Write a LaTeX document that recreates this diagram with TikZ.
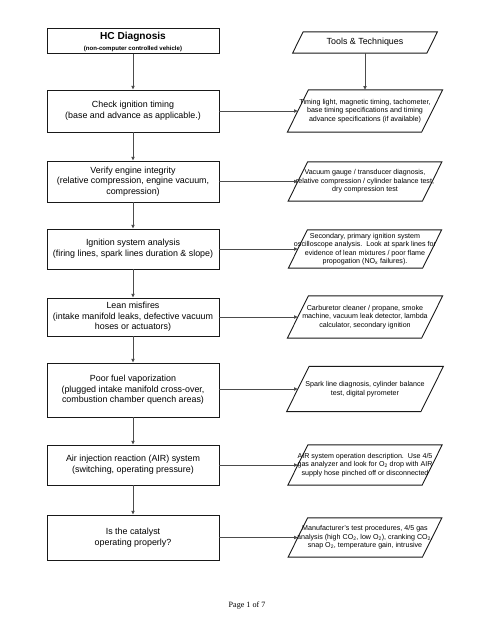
\documentclass[tikz,border=0pt]{standalone}
\usepackage{fontspec}
\setmainfont{Liberation Sans}
\newfontfamily\footfont{Liberation Serif}
\usetikzlibrary{arrows.meta}
\newcommand\pxu{1.2364pt}
\tikzset{
  lbox/.style={draw=black!90, line width=1.1pt, minimum width=172*\pxu, inner sep=0pt,
               align=center, font=\fontsize{11}{13.2}\selectfont},
  pbox/.style={minimum width=134*\pxu, inner sep=0pt},
  pline/.style={draw=black!90, line width=1.1pt, line join=miter},
  ptext/.style={align=center, font=\fontsize{8.8}{10.4}\selectfont, inner sep=0pt},
  conn/.style={draw=black!70, line width=1.1pt, -{Triangle[length=4.5pt,width=4pt]}},
}
% name, cx, cy, height(px), text
\newcommand\paral[5]{%
  \node[pbox, minimum height=#4*\pxu] (#1) at (#2,#3) {};
  \draw[pline] ([xshift=#4*0.25*\pxu]#1.north west) -- ([xshift=#4*0.25*\pxu]#1.north east)
     -- ([xshift=-#4*0.25*\pxu]#1.south east) -- ([xshift=-#4*0.25*\pxu]#1.south west) -- cycle;
  \node[ptext] (#1t) at (#1.center) {#5};
}
\begin{document}
\begin{tikzpicture}[x=1.2364pt, y=-1.2364pt]
\useasboundingbox[fill=white] (0,0) rectangle (495,640);

% left column
\node[lbox, minimum height=25*\pxu] (b1) at (133,41) {};
\node[font=\fontsize{12.5}{14}\selectfont\bfseries, inner sep=0pt] (b1t) at (133,37) {HC Diagnosis};
\node[font=\fontsize{7.5}{9}\selectfont\bfseries, inner sep=0pt] (b1s) at (133,48.5) {(non-computer controlled vehicle)};

\node[lbox, minimum height=42*\pxu] (b2) at (133,111)
  {Check ignition timing\\(base and advance as applicable.)};
\node[lbox, minimum height=41*\pxu] (b3) at (133,181.5)
  {Verify engine integrity\\(relative compression, engine vacuum,\\compression)};
\node[lbox, minimum height=40*\pxu] (b4) at (133,249)
  {Ignition system analysis\\(firing lines, spark lines duration \& slope)};
\node[lbox, minimum height=38*\pxu] (b5) at (133,317)
  {Lean misfires\\(intake manifold leaks, defective vacuum\\hoses or actuators)};
\node[lbox, minimum height=54*\pxu] (b6) at (133,390)
  {Poor fuel vaporization\\(plugged intake manifold cross-over,\\combustion chamber quench areas)};
\node[lbox, minimum height=40*\pxu] (b7) at (133,465)
  {Air injection reaction (AIR) system\\(switching, operating pressure)};
\node[lbox, minimum height=45*\pxu] (b8) at (133,537.5)
  {Is the catalyst\\operating properly?};

% right column
\paral{p1}{365}{42.5}{21}{\fontsize{11}{13}\selectfont Tools \& Techniques}
\paral{p2}{365}{111}{42}{Timing light, magnetic timing, tachometer,\\base timing specifications and timing\\advance specifications (if available)}
\paral{p3}{365}{181.5}{39}{Vacuum gauge / transducer diagnosis,\\relative compression / cylinder balance test,\\dry compression test}
\paral{p4}{365}{249}{38}{Secondary, primary ignition system\\oscilloscope analysis.\ \ Look at spark lines for\\evidence of lean mixtures / poor flame\\propogation (NO\textsubscript{x} failures).}
\paral{p5}{365}{317}{42}{Carburetor cleaner / propane, smoke\\machine, vacuum leak detector, lambda\\calculator, secondary ignition}
\paral{p6}{365}{389}{45}{Spark line diagnosis, cylinder balance\\test, digital pyrometer}
\paral{p7}{365}{465}{40}{AIR system operation description.\ \ Use 4/5\\gas analyzer and look for O\textsubscript{2} drop with AIR\\supply hose pinched off or disconnected}
\paral{p8}{365}{537.5}{39}{Manufacturer's test procedures, 4/5 gas\\analysis (high CO\textsubscript{2}, low O\textsubscript{2}), cranking CO\textsubscript{2},\\snap O\textsubscript{2}, temperature gain, intrusive}

% connectors
\draw[conn] (b1.south) -- (b2.north);
\draw[conn] (b2.south) -- (b3.north);
\draw[conn] (b3.south) -- (b4.north);
\draw[conn] (b4.south) -- (b5.north);
\draw[conn] (b5.south) -- (b6.north);
\draw[conn] (b6.south) -- (b7.north);
\draw[conn] (b7.south) -- (b8.north);
\draw[conn] (p1.south) -- (p2.north);
\draw[conn] (b2.east |- p2.west) -- (p2.west);
\draw[conn] (b3.east |- p3.west) -- (p3.west);
\draw[conn] (b4.east |- p4.west) -- (p4.west);
\draw[conn] (b5.east |- p5.west) -- (p5.west);
\draw[conn] (b6.east |- p6.west) -- (p6.west);
\draw[conn] (b7.east |- p7.west) -- (p7.west);
\draw[conn] (b8.east |- p8.west) -- (p8.west);

\node[font=\footfont\fontsize{10}{12}\selectfont, inner sep=0pt] (pg) at (247,606) {Page 1 of 7};
\end{tikzpicture}
\end{document}
